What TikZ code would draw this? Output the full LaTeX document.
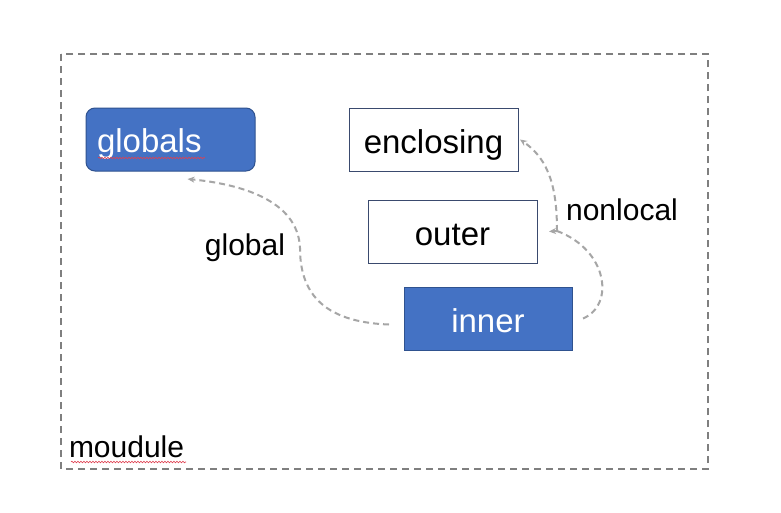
\documentclass[tikz,border=0pt]{standalone}
\usepackage{fontspec}
\setmainfont{Liberation Sans}
\usetikzlibrary{arrows.meta,decorations.pathmorphing}
\definecolor{boxblue}{HTML}{4472C4}
\definecolor{boxedge}{HTML}{2F528F}
\definecolor{frameedge}{HTML}{3A4A6E}
\definecolor{framegray}{HTML}{7F7F7F}
\definecolor{arrowgray}{HTML}{A6A6A6}
\definecolor{spellred}{HTML}{E04050}
\tikzset{
  x=1pt, y=-1pt,
  every node/.style={inner sep=0pt, outer sep=0pt},
  lbl/.style={font=\fontsize{30}{34}\selectfont, text=black},
  boxfont/.style={font=\fontsize{33}{36}\selectfont, text height=27pt, text depth=0pt},
  bluebox/.style={boxfont, draw=boxedge, line width=1pt, fill=boxblue, minimum width=168pt, minimum height=63pt, text=white},
  whitebox/.style={boxfont, draw=frameedge, line width=1pt, fill=white, minimum width=169pt, minimum height=63pt, text=black},
  link/.style={draw=arrowgray, line width=2pt, dash pattern=on 6pt off 4pt, -{Stealth[length=7pt,width=6pt]}},
  squiggle/.style={draw=spellred, line width=0.6pt, decorate, decoration={snake, amplitude=0.8pt, segment length=3pt}}
}
\begin{document}
\begin{tikzpicture}
\useasboundingbox (0,0) rectangle (781,512);
\fill[white] (0,0) rectangle (781,512);
% module frame
\draw[framegray, line width=2pt, dash pattern=on 7pt off 5pt] (61,54) rectangle (708,469);
\node[lbl, anchor=base west] (moudule) at (69,457) {moudule};
\draw[squiggle] (71,462) -- (186,462);
% boxes
\node[bluebox, rounded corners=9pt, minimum width=169pt] (globals) at (170.5,139.5) {};
\node[anchor=base west, text=white, font=\fontsize{33}{36}\selectfont] (globalstext) at (97,152) {globals};
\draw[squiggle] (98,158) -- (205,158);
\node[whitebox] (enclosing) at (433.5,139.5) {enclosing};
\node[whitebox] (outer) at (452.5,231.5) {outer};
\node[bluebox] (inner) at (488,318.5) {inner};
% labels
\node[lbl] (globallbl) at (245,248) {global};
\node[lbl] (nonlocallbl) at (622,210) {nonlocal};
% connectors
\coordinate (gstart) at ([xshift=-15pt,yshift=-6pt]inner.west);
\coordinate (gend) at ([xshift=17pt,yshift=-8pt]globals.south);
\draw[link] (gstart) .. controls (320,322) and (300,290) .. (300,248)
  .. controls (298,200) and (240,184) .. (gend);
\coordinate (nstart) at ([xshift=11pt]inner.east);
\coordinate (njoin) at (557,231);
\coordinate (nend) at ([xshift=12pt]outer.east);
\coordinate (eend) at ([xshift=2pt]enclosing.east);
\draw[link, -] (nstart) .. controls (615,305) and (608,250) .. (njoin);
\draw[link] (njoin) -- (nend);
\draw[link] (njoin) .. controls (557,190) and (550,160) .. (eend);
\end{tikzpicture}
\end{document}
